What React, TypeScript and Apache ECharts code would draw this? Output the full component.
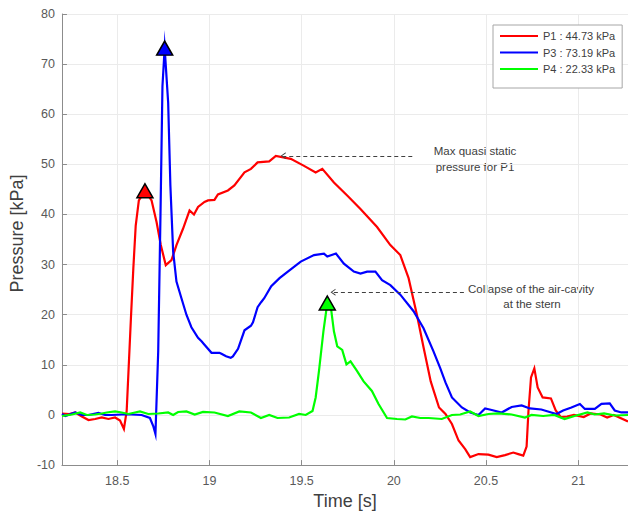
import { useEffect, useRef } from "react";
import * as echarts from "echarts";

const p1Time = [
  18.2, 18.24, 18.272, 18.308, 18.344, 18.38, 18.416, 18.452, 18.488, 18.515, 18.536, 18.551,
  18.574, 18.587, 18.6, 18.617, 18.65, 18.686, 18.713, 18.736, 18.763, 18.794, 18.821, 18.857,
  18.892, 18.916, 18.938, 18.973, 18.992, 19.027, 19.046, 19.1, 19.135, 19.19, 19.225, 19.261,
  19.324, 19.36, 19.441, 19.513, 19.576, 19.612, 19.675, 19.747, 19.819, 19.909, 19.981, 20.035,
  20.08, 20.125, 20.161, 20.2, 20.245, 20.28, 20.315, 20.351, 20.387, 20.414, 20.459, 20.513,
  20.558, 20.603, 20.648, 20.675, 20.702, 20.72, 20.73, 20.744, 20.762, 20.78, 20.807, 20.852,
  20.878, 20.905, 20.94, 20.977, 21.03, 21.067, 21.121, 21.157, 21.193, 21.27,
];
const p1Value = [
  0.3, 0.2, 0.5, -0.3, -1.0, -0.8, -0.5, -0.8, -0.5, -1.1, -2.8, 0.8,
  19.3, 29.2, 37.8, 42.8, 44.73, 42.8, 38.5, 33.9, 29.9, 30.9, 33.9, 37.2,
  40.8, 40.0, 41.5, 42.5, 42.8, 42.9, 44.0, 44.8, 45.8, 48.4, 49.1, 50.4,
  50.6, 51.7, 51.1, 49.7, 48.4, 49.1, 46.4, 43.8, 41.1, 37.5, 33.9, 31.9,
  27.3, 20.0, 13.5, 6.7, 1.5, 0.2, -1.8, -5.1, -6.8, -8.4, -7.8, -7.9,
  -8.4, -8.0, -7.5, -7.8, -8.1, -6.3, 0.7, 7.5, 9.3, 5.5, 3.5, 3.3,
  0.9, -0.4, -0.3, 0.0, -0.4, 0.3, 0.1, -0.5, 0.0, -1.3,
];

const p3Time = [
  18.2, 18.218, 18.272, 18.308, 18.344, 18.398, 18.434, 18.47, 18.524, 18.578, 18.632, 18.677,
  18.695, 18.707, 18.722, 18.734, 18.745, 18.757, 18.776, 18.788, 18.803, 18.821, 18.848, 18.875,
  18.902, 18.938, 18.957, 18.973, 19.011, 19.054, 19.065, 19.09, 19.115, 19.127, 19.155, 19.19,
  19.225, 19.236, 19.261, 19.28, 19.297, 19.335, 19.38, 19.425, 19.495, 19.567, 19.621, 19.639,
  19.686, 19.729, 19.783, 19.819, 19.855, 19.9, 19.936, 19.981, 20.035, 20.107, 20.161, 20.215,
  20.251, 20.28, 20.315, 20.369, 20.414, 20.459, 20.495, 20.531, 20.585, 20.639, 20.693, 20.738,
  20.8, 20.854, 20.882, 20.918, 20.963, 21.009, 21.036, 21.09, 21.126, 21.171, 21.198, 21.234, 21.27,
];
const p3Value = [
  0.2, -0.2, 0.5, 0.0, 0.0, 0.4, 0.0, 0.0, 0.1, 0.1, 0.0, -0.6,
  -2.2, -3.8, 12.7, 39.2, 65.6, 73.19, 62.3, 45.8, 32.6, 26.6, 23.3, 20.0,
  17.5, 15.4, 14.7, 14.0, 12.4, 12.4, 12.2, 11.7, 11.4, 11.7, 13.2, 16.9,
  17.8, 18.5, 21.5, 22.5, 23.3, 25.7, 27.3, 28.6, 30.6, 31.9, 32.2, 31.6,
  32.2, 30.2, 28.6, 28.2, 28.6, 28.6, 26.9, 25.9, 24.0, 20.7, 17.3, 12.7,
  9.4, 6.5, 3.5, 1.5, 0.5, 0.0, 1.3, 1.0, 0.5, 1.6, 1.9, 1.3,
  1.1, 0.5, 0.2, 0.9, 1.5, 2.2, 1.2, 1.2, 2.2, 2.3, 0.9, 0.5, 0.5,
];

const p4Time = [
  18.2, 18.254, 18.299, 18.335, 18.38, 18.416, 18.443, 18.488, 18.524, 18.56, 18.596, 18.623,
  18.668, 18.722, 18.776, 18.803, 18.83, 18.875, 18.92, 18.965, 19.027, 19.1, 19.162, 19.225,
  19.279, 19.324, 19.369, 19.432, 19.486, 19.522, 19.559, 19.576, 19.594, 19.618, 19.639, 19.66,
  19.675, 19.693, 19.72, 19.743, 19.765, 19.8, 19.836, 19.881, 19.917, 19.963, 20.017, 20.062,
  20.098, 20.143, 20.189, 20.26, 20.315, 20.36, 20.414, 20.459, 20.513, 20.567, 20.639, 20.711,
  20.747, 20.81, 20.87, 20.926, 20.98, 21.05, 21.09, 21.14, 21.2, 21.27,
];
const p4Value = [
  -0.2, 0.1, 0.5, 0.0, 0.1, 0.3, 0.5, 0.7, 0.5, 0.2, 0.5, 0.7,
  0.2, 0.3, 0.5, 0.0, 0.6, 0.7, 0.1, 0.6, 0.5, -0.2, 0.7, 0.5,
  -0.6, 0.0, -0.6, -0.5, 0.2, 0.0, 0.8, 3.5, 8.8, 16.7, 22.33, 21.0,
  16.7, 13.7, 13.0, 10.1, 10.7, 8.8, 6.7, 4.8, 2.2, -0.6, -0.8, -0.9,
  -0.3, -0.6, -0.6, -0.8, 0.0, 0.1, 0.7, -0.2, 0.2, 0.3, 0.1, -0.5,
  0.0, -0.2, 0.0, -0.8, -0.2, 0.5, 0.1, 0.3, -0.1, 0.0,
];

const seriesNames = ["P1 : 44.73 kPa", "P3 : 73.19 kPa", "P4 : 22.33 kPa"];
const seriesColors = ["#ff0000", "#0000ff", "#00ff00"];
const peakTimes = [18.65, 18.757, 19.639];
const peakValues = [44.73, 73.19, 22.33];

const xTickValues = [18.5, 19, 19.5, 20, 20.5, 21];
const xMin = 18.2;
const xMax = 21.27;
const yMin = -10;
const yMax = 80;
const yStep = 10;

// annotation arrows: [from time, to time] at a pressure level
const arrowTimes = [
  [20.1, 19.4],
  [20.38, 19.67],
];
const arrowValues = [51.7, 24.5];
const annotationTexts = [
  ["Max quasi static", "pressure for P1"],
  ["Collapse of the air-cavity", "at the stern"],
];

const FONT = '"Liberation Sans", Arial, Helvetica, sans-serif';
const chevron = "path://M5,0 L10,10 L8.4,10 L5,3 L1.6,10 L0,10 Z";

function zip(t: number[], v: number[]) {
  return t.map((x, i) => [x, v[i]]);
}

export default function App() {
  const ref = useRef<HTMLDivElement>(null);
  useEffect(() => {
    if (!ref.current) return;
    const chart = echarts.init(ref.current, null, { renderer: "svg" });
    const times = [p1Time, p3Time, p4Time];
    const values = [p1Value, p3Value, p4Value];
    const arrowForSeries: Record<number, number> = { 0: 0, 2: 1 };

    const series: any[] = seriesNames.map((name, i) => {
      const s: any = {
        name,
        type: "line",
        data: zip(times[i], values[i]),
        showSymbol: false,
        symbol: "none",
        color: seriesColors[i],
        lineStyle: { width: 2.2, color: seriesColors[i], join: "miter", miterLimit: 20 },
        itemStyle: { color: seriesColors[i] },
        z: 2 + i,
        markPoint: {
          silent: true,
          symbol: "triangle",
          symbolSize: [16, 14],
          itemStyle: { color: seriesColors[i], borderColor: "#000", borderWidth: 1.5 },
          label: { show: false },
          data: [{ coord: [peakTimes[i], peakValues[i]] }],
        },
      };
      const a = arrowForSeries[i];
      if (a !== undefined) {
        s.markLine = {
          silent: true,
          symbol: ["none", chevron],
          symbolSize: [7, 5],
          lineStyle: { color: "#404040", type: [4, 3], width: 1 },
          itemStyle: { color: "#404040" },
          label: { show: false },
          emphasis: { disabled: true },
          data: [
            [
              { coord: [arrowTimes[a][0], arrowValues[a]] },
              { coord: [arrowTimes[a][1], arrowValues[a]] },
            ],
          ],
        };
      }
      return s;
    });

    const textStyle = (text: string, x: number, y: number) => ({
      type: "text",
      x,
      y,
      silent: true,
      style: {
        text,
        fill: "#404040",
        font: `11.5px ${FONT}`,
        textAlign: "center",
        textVerticalAlign: "middle",
        align: "center",
        verticalAlign: "middle",
      },
    });

    chart.setOption({
      animation: false,
      backgroundColor: "#ffffff",
      textStyle: { fontFamily: FONT },
      grid: { left: 60, right: 0, top: 14, bottom: 47, containLabel: false },
      legend: {
        orient: "vertical",
        left: 493,
        top: 25,
        padding: [5, 7, 13, 7],
        itemWidth: 38,
        itemHeight: 2,
        itemGap: 4.5,
        icon: "rect",
        borderColor: "#a6a6a6",
        borderWidth: 1,
        backgroundColor: "#ffffff",
        textStyle: { fontSize: 11, color: "#404040", lineHeight: 12, fontFamily: FONT },
        data: seriesNames,
      },
      xAxis: {
        type: "value",
        min: xMin,
        max: xMax,
        name: "Time [s]",
        nameLocation: "middle",
        nameGap: 23,
        nameTextStyle: { fontSize: 18, color: "#404040", fontFamily: FONT },
        axisLine: { show: true, onZero: false, lineStyle: { color: "#8c8c8c", width: 1 } },
        axisTick: { show: true, inside: true, length: 5, customValues: xTickValues, lineStyle: { color: "#8c8c8c" } },
        axisLabel: { customValues: xTickValues, color: "#595959", fontSize: 12.5, margin: 9, fontFamily: FONT },
        splitLine: { show: true, lineStyle: { color: "#ebebeb", width: 1 } },
      },
      yAxis: {
        type: "value",
        min: yMin,
        max: yMax,
        interval: yStep,
        name: "Pressure [kPa]",
        nameLocation: "middle",
        nameGap: 30,
        nameTextStyle: { fontSize: 18, color: "#404040", fontFamily: FONT, padding: [0, 0, 0, 12] },
        axisLine: { show: true, onZero: false, lineStyle: { color: "#8c8c8c", width: 1 } },
        axisTick: { show: true, inside: true, length: 5, lineStyle: { color: "#8c8c8c" } },
        axisLabel: { color: "#595959", fontSize: 12.5, margin: 7, fontFamily: FONT },
        splitLine: { show: true, lineStyle: { color: "#ebebeb", width: 1 } },
      },
      graphic: [
        textStyle(annotationTexts[0][0], 475, 151),
        textStyle(annotationTexts[0][1], 475, 166.5),
        textStyle(annotationTexts[1][0], 531, 288.5),
        textStyle(annotationTexts[1][1], 532, 304),
      ],
      series,
    });
    return () => chart.dispose();
  }, []);

  return (
    <div
      ref={ref}
      style={{ position: "fixed", left: 0, top: 0, width: 628, height: 515, background: "#fff" }}
    />
  );
}
